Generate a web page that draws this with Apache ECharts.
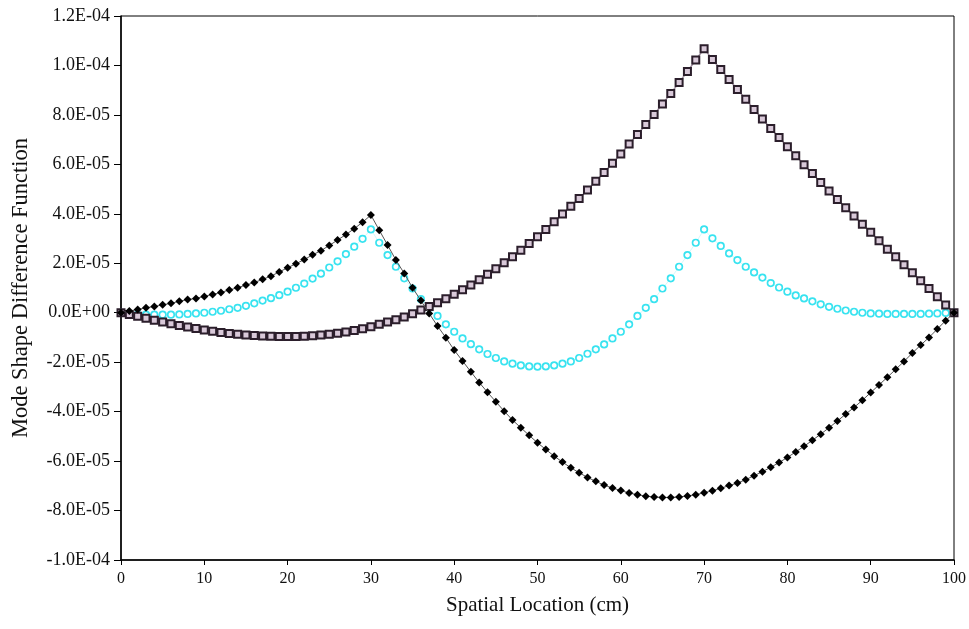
<!DOCTYPE html>
<html>
<head>
<meta charset="utf-8">
<script src="https://cdn.jsdelivr.net/npm/echarts@6/dist/echarts.min.js"></script>
<style>html,body{margin:0;padding:0;background:#fff}#c{width:969px;height:629px}</style>
</head>
<body>
<div id="c"></div>
<script>
// Spatial location (cm)
var xs = [0,1,2,3,4,5,6,7,8,9,10,11,12,13,14,15,16,17,18,19,20,21,22,23,24,25,26,27,28,29,30,
31,32,33,34,35,36,37,38,39,40,41,42,43,44,45,46,47,48,49,50,51,52,53,54,55,56,57,58,59,60,
61,62,63,64,65,66,67,68,69,70,71,72,73,74,75,76,77,78,79,80,81,82,83,84,85,86,87,88,89,90,
91,92,93,94,95,96,97,98,99,100];

// Values in units of 1E-05
var unitScale = 1e-5;

var blackDiamond = [0,0.07,0.13,0.20,0.25,0.32,0.38,0.46,0.53,0.58,
0.66,0.74,0.82,0.92,1.01,1.12,1.22,1.35,1.48,1.65,
1.82,1.98,2.15,2.34,2.51,2.72,2.94,3.16,3.40,3.66,
3.95,3.34,2.74,2.13,1.59,1.01,0.49,-0.03,-0.54,-1.01,
-1.51,-1.95,-2.39,-2.82,-3.22,-3.60,-3.98,-4.34,-4.65,-4.96,
-5.26,-5.53,-5.80,-6.04,-6.27,-6.47,-6.66,-6.82,-6.97,-7.09,
-7.19,-7.29,-7.36,-7.42,-7.45,-7.47,-7.47,-7.45,-7.41,-7.36,
-7.28,-7.20,-7.10,-6.99,-6.89,-6.75,-6.59,-6.43,-6.25,-6.06,
-5.85,-5.63,-5.40,-5.16,-4.91,-4.65,-4.38,-4.10,-3.83,-3.54,
-3.23,-2.92,-2.61,-2.29,-1.97,-1.63,-1.31,-1.00,-0.66,-0.32,
0];

var cyanCircle = [0,-0.06,-0.08,-0.08,-0.08,-0.08,-0.08,-0.07,-0.05,-0.03,
0.00,0.04,0.08,0.14,0.20,0.28,0.38,0.49,0.59,0.71,
0.85,1.01,1.18,1.38,1.58,1.83,2.08,2.37,2.67,2.99,
3.37,2.83,2.33,1.86,1.39,0.98,0.55,0.20,-0.13,-0.47,
-0.77,-1.04,-1.27,-1.48,-1.67,-1.83,-1.97,-2.06,-2.13,-2.17,
-2.18,-2.17,-2.13,-2.06,-1.97,-1.83,-1.66,-1.48,-1.28,-1.04,
-0.77,-0.47,-0.13,0.20,0.55,0.98,1.39,1.86,2.33,2.83,
3.37,3.01,2.70,2.40,2.13,1.86,1.63,1.42,1.20,1.02,
0.85,0.70,0.58,0.46,0.34,0.24,0.16,0.09,0.04,0.00,
-0.03,-0.04,-0.05,-0.05,-0.05,-0.05,-0.05,-0.04,-0.03,-0.01,
0];

var purpleSquare = [0,-0.07,-0.14,-0.22,-0.30,-0.38,-0.45,-0.52,-0.58,-0.64,
-0.70,-0.75,-0.80,-0.84,-0.87,-0.90,-0.92,-0.94,-0.95,-0.96,
-0.96,-0.96,-0.95,-0.93,-0.90,-0.87,-0.83,-0.78,-0.72,-0.65,
-0.57,-0.47,-0.38,-0.28,-0.17,-0.04,0.11,0.25,0.40,0.57,
0.75,0.93,1.12,1.33,1.56,1.78,2.02,2.26,2.53,2.80,
3.07,3.37,3.68,3.99,4.31,4.62,4.96,5.32,5.67,6.04,
6.42,6.82,7.21,7.61,8.02,8.44,8.87,9.31,9.76,10.22,
10.68,10.24,9.84,9.43,9.03,8.63,8.22,7.83,7.45,7.09,
6.71,6.35,5.98,5.63,5.27,4.92,4.58,4.25,3.91,3.58,
3.25,2.91,2.57,2.26,1.94,1.62,1.29,0.98,0.65,0.31,
0];

var xAxisTitle = 'Spatial Location (cm)';
var yAxisTitle = 'Mode Shape Difference Function';

function pairs(arr) { return xs.map(function (x, i) { return [x, arr[i]]; }); }

function sciLabel(v) {
  var val = v * unitScale;
  if (Math.abs(v) < 1e-9) return '0.0E+00';
  var s = val.toExponential(1);
  var parts = s.split('e');
  var exp = parseInt(parts[1], 10);
  var sign = exp < 0 ? '-' : '+';
  var e = Math.abs(exp);
  return parts[0] + 'E' + sign + (e < 10 ? '0' + e : '' + e);
}

var font = '"Liberation Serif", "Times New Roman", serif';
var chart = echarts.init(document.getElementById('c'), null, { renderer: 'canvas' });
chart.setOption({
  backgroundColor: '#ffffff',
  animation: false,
  grid: { left: 121, right: 14, top: 16, bottom: 69, show: true, borderColor: '#000', borderWidth: 1, backgroundColor: 'transparent' },
  xAxis: {
    type: 'value', min: 0, max: 100, interval: 10,
    name: xAxisTitle, nameLocation: 'middle', nameGap: 35,
    nameTextStyle: { fontFamily: font, fontSize: 21, color: '#111' },
    axisLine: { onZero: false, lineStyle: { color: '#000', width: 1.5 } },
    axisTick: { show: true, inside: false, length: 5, lineStyle: { color: '#000' } },
    axisLabel: { fontFamily: font, fontSize: 16, color: '#111', margin: 11 },
    splitLine: { show: false }
  },
  yAxis: {
    type: 'value', min: -10, max: 12, interval: 2,
    name: yAxisTitle, nameLocation: 'middle', nameGap: 88, nameRotate: 90,
    nameTextStyle: { fontFamily: font, fontSize: 22.5, color: '#111' },
    axisLine: { onZero: false, lineStyle: { color: '#000', width: 1.5 } },
    axisTick: { show: true, inside: false, length: 7, lineStyle: { color: '#000' } },
    axisLabel: { fontFamily: font, fontSize: 18, color: '#111', margin: 11, formatter: sciLabel },
    splitLine: { show: false }
  },
  series: [
    {
      type: 'line', data: pairs(cyanCircle), symbol: 'circle', symbolSize: 6.5,
      itemStyle: { color: '#ffffff', borderColor: '#38e3f0', borderWidth: 1.7 },
      lineStyle: { color: '#7ceef6', width: 0.6, opacity: 0.6 },
      z: 2
    },
    {
      type: 'line', data: pairs(purpleSquare), symbol: 'rect', symbolSize: 7,
      itemStyle: { color: '#d9c9d9', borderColor: '#2b1e2b', borderWidth: 2 },
      lineStyle: { color: '#9d8c9d', width: 1.5 },
      z: 3
    },
    {
      type: 'line', data: pairs(blackDiamond), symbol: 'diamond', symbolSize: 8,
      itemStyle: { color: '#000000' },
      lineStyle: { color: '#555555', width: 1 },
      z: 4
    }
  ]
});
</script>
</body>
</html>
